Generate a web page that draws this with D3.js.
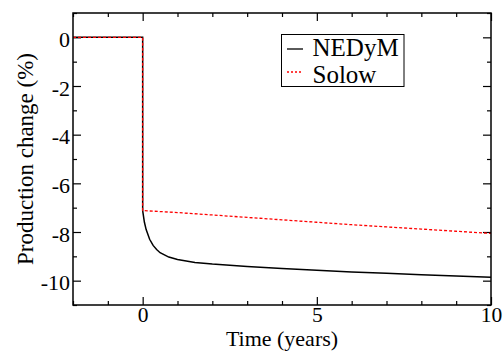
<!DOCTYPE html>
<html><head><meta charset="utf-8">
<script src="https://cdn.jsdelivr.net/npm/d3@7"></script>
<style>body{margin:0;background:#fff;}</style></head>
<body><svg id="c" width="504" height="351"></svg>
<script>
// Data
const nedymTime = [-2, 0, 0, 0.05, 0.1, 0.2, 0.3, 0.4, 0.5, 0.75, 1, 1.5, 2, 3, 4, 5, 6, 7, 8, 9, 10];
const nedymValue = [0, 0, -7.12, -7.6, -7.9, -8.3, -8.55, -8.72, -8.85, -9.03, -9.13, -9.25, -9.32, -9.42, -9.5, -9.57, -9.64, -9.7, -9.76, -9.81, -9.86];
const solowTime = [-2, 0, 0, 1, 2, 3, 4, 5, 6, 7, 8, 9, 10];
const solowValue = [0, 0, -7.12, -7.2, -7.3, -7.4, -7.5, -7.6, -7.7, -7.79, -7.88, -7.97, -8.06];
const xMajorTicks = [0, 5, 10];
const xMinorTicks = [-2, -1, 1, 2, 3, 4, 6, 7, 8, 9];
const yMajorTicks = [-10, -8, -6, -4, -2, 0];
const yMinorTicks = [-11, -9, -7, -5, -3, -1, 1];
const seriesNames = ["NEDyM", "Solow"];

const FONT = "Liberation Serif";
const L = 73, R = 491, T = 13, B = 305;
const svg = d3.select("#c");
const x = d3.scaleLinear().domain([-2, 10]).range([L, R]);
const y = d3.scaleLinear().domain([-11, 1]).range([B, T]);
const fmt = d => String(d);

function styleAxis(g, size){
  g.attr("font-family", FONT).attr("font-size", size || 22);
  g.select(".domain").remove();
  g.selectAll(".tick line").attr("stroke", "#000").attr("stroke-width", 1.2);
  g.selectAll("text").attr("font-family", FONT).attr("font-size", size || 22).attr("fill", "#000");
}
// bottom
svg.append("g").attr("transform", `translate(0,${B})`)
  .call(d3.axisBottom(x).tickValues(xMajorTicks).tickSizeInner(-8).tickSizeOuter(0).tickFormat(fmt))
  .call(styleAxis, 21.5)
  .call(g => g.selectAll("text").attr("dy", null).attr("y", 17));
svg.append("g").attr("transform", `translate(0,${B})`)
  .call(d3.axisBottom(x).tickValues(xMinorTicks).tickSizeInner(-4).tickSizeOuter(0).tickFormat(""))
  .call(styleAxis);
// top
svg.append("g").attr("transform", `translate(0,${T})`)
  .call(d3.axisTop(x).tickValues(xMajorTicks).tickSizeInner(-8).tickSizeOuter(0).tickFormat(""))
  .call(styleAxis);
svg.append("g").attr("transform", `translate(0,${T})`)
  .call(d3.axisTop(x).tickValues(xMinorTicks).tickSizeInner(-4).tickSizeOuter(0).tickFormat(""))
  .call(styleAxis);
// left
svg.append("g").attr("transform", `translate(${L},0)`)
  .call(d3.axisLeft(y).tickValues(yMajorTicks).tickSizeInner(-8).tickSizeOuter(0).tickFormat(fmt))
  .call(styleAxis)
  .call(g => g.selectAll("text").attr("x", -3).attr("dy", "0.42em"));
svg.append("g").attr("transform", `translate(${L},0)`)
  .call(d3.axisLeft(y).tickValues(yMinorTicks).tickSizeInner(-4).tickSizeOuter(0).tickFormat(""))
  .call(styleAxis);
// right
svg.append("g").attr("transform", `translate(${R},0)`)
  .call(d3.axisRight(y).tickValues(yMajorTicks).tickSizeInner(-8).tickSizeOuter(0).tickFormat(""))
  .call(styleAxis);
svg.append("g").attr("transform", `translate(${R},0)`)
  .call(d3.axisRight(y).tickValues(yMinorTicks).tickSizeInner(-4).tickSizeOuter(0).tickFormat(""))
  .call(styleAxis);

// lines
const line = d3.line().x(d => x(d[0])).y(d => y(d[1]));
svg.append("path").datum(nedymTime.map((t,i)=>[t, nedymValue[i]]))
  .attr("d", line).attr("fill", "none").attr("stroke", "#000").attr("stroke-width", 1.5);
svg.append("path").datum(solowTime.map((t,i)=>[t, solowValue[i]]))
  .attr("d", line).attr("fill", "none").attr("stroke", "#ff0000").attr("stroke-width", 1.3).attr("stroke-dasharray", "3,2");

// frame
svg.append("rect").attr("x", L).attr("y", T).attr("width", R - L).attr("height", B - T)
  .attr("fill", "none").attr("stroke", "#000").attr("stroke-width", 1.5);

// titles
svg.append("text").attr("x", (L + R) / 2).attr("y", 345.5).attr("text-anchor", "middle")
  .attr("font-family", FONT).attr("font-size", 22).text("Time (years)");
svg.append("text").attr("transform", `translate(33,${(T + B) / 2}) rotate(-90)`).attr("text-anchor", "middle")
  .attr("font-family", FONT).attr("font-size", 23).text("Production change (%)");

// legend
const lg = svg.append("g");
lg.append("rect").attr("x", 281.5).attr("y", 34.5).attr("width", 122.5).attr("height", 52)
  .attr("fill", "#fff").attr("stroke", "#000").attr("stroke-width", 1);
const legColors = ["#000", "#ff0000"], legDash = [null, "2,2"], legY = [49, 72], legBase = [56, 82.5];
seriesNames.forEach((n, i) => {
  lg.append("line").attr("x1", 287).attr("x2", 303).attr("y1", legY[i]).attr("y2", legY[i])
    .attr("stroke", legColors[i]).attr("stroke-width", 1.3).attr("stroke-dasharray", legDash[i]);
  lg.append("text").attr("x", 312.5).attr("y", legBase[i]).attr("font-family", FONT).attr("font-size", 25).text(n);
});
</script></body></html>
